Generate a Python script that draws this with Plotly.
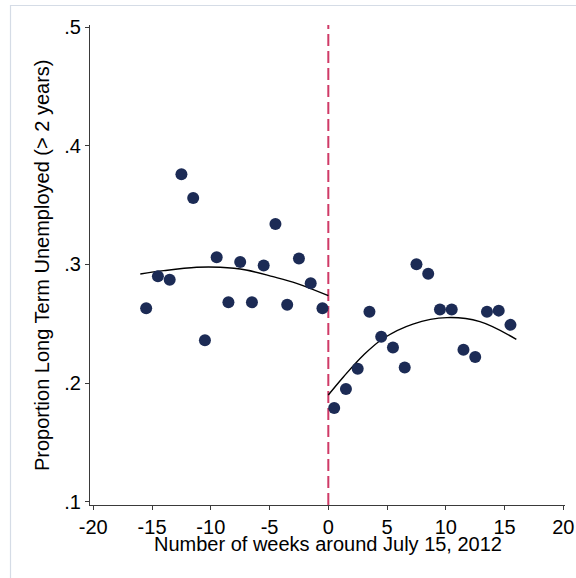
import plotly.graph_objects as go

# Data
weeks_before = [-15.5, -14.5, -13.5, -12.5, -11.5, -10.5, -9.5, -8.5,
                -7.5, -6.5, -5.5, -4.5, -3.5, -2.5, -1.5, -0.5]
prop_before = [0.263, 0.290, 0.287, 0.376, 0.356, 0.236, 0.306, 0.268,
               0.302, 0.268, 0.299, 0.334, 0.266, 0.305, 0.284, 0.263]
weeks_after = [0.5, 1.5, 2.5, 3.5, 4.5, 5.5, 6.5, 7.5,
               8.5, 9.5, 10.5, 11.5, 12.5, 13.5, 14.5, 15.5]
prop_after = [0.179, 0.195, 0.212, 0.260, 0.239, 0.230, 0.213, 0.300,
              0.292, 0.262, 0.262, 0.228, 0.222, 0.260, 0.261, 0.249]

# Quadratic fit curves
fit_before_x = [-16, -14, -11.2, -9.2, -7, -4.7, -2.7, 0]
fit_before_y = [0.2919, 0.2947, 0.2975, 0.2975, 0.2952, 0.2896, 0.2840, 0.2736]
fit_after_x = [0, 1.3, 3, 4.7, 7.2, 10.1, 12.9, 16]
fit_after_y = [0.1899, 0.2053, 0.2236, 0.2377, 0.2497, 0.2551, 0.2517, 0.2368]

x_ticks = [-20, -15, -10, -5, 0, 5, 10, 15, 20]
x_tick_labels = ["-20", "-15", "-10", "-5", "0", "5", "10", "15", "20"]
y_ticks = [0.1, 0.2, 0.3, 0.4, 0.5]
y_tick_labels = [".1", ".2", ".3", ".4", ".5"]

cutoff = 0

FONT = "Liberation Sans, Arial, sans-serif"
AXC = "#3a3a3a"
Y_LO, Y_HI = 0.0972, 0.5017

fig = go.Figure()
fig.add_trace(go.Scatter(x=fit_before_x, y=fit_before_y, mode="lines", line_shape="spline",
                         line=dict(color="black", width=1.4), hoverinfo="skip"))
fig.add_trace(go.Scatter(x=fit_after_x, y=fit_after_y, mode="lines", line_shape="spline",
                         line=dict(color="black", width=1.4), hoverinfo="skip"))
fig.add_trace(go.Scatter(x=weeks_before + weeks_after, y=prop_before + prop_after,
                         mode="markers",
                         marker=dict(size=12, color="#1C2B55", line=dict(width=0))))

fig.add_shape(type="line", x0=cutoff, x1=cutoff, y0=Y_LO, y1=Y_HI,
              xref="x", yref="y", line=dict(color="#CF3A67", width=2, dash="12px,5px"),
              layer="below")

W, H = 576, 578
L, R, T, B = 90, 11, 25, 73
pw, ph = W - L - R, H - T - B

def px_to_paper_x(px):
    return (px - L) / pw

def px_to_paper_y(py):
    return (H - B - py) / ph

# outer light border (top and left)
fig.add_shape(type="line", xref="paper", yref="paper",
              x0=px_to_paper_x(10), x1=px_to_paper_x(580),
              y0=px_to_paper_y(5.5), y1=px_to_paper_y(5.5),
              line=dict(color="#D5DCE6", width=1.2))
fig.add_shape(type="line", xref="paper", yref="paper",
              x0=px_to_paper_x(10.5), x1=px_to_paper_x(10.5),
              y0=px_to_paper_y(5), y1=px_to_paper_y(590),
              line=dict(color="#D5DCE6", width=1.2))

fig.add_annotation(text="Proportion Long Term Unemployed (> 2 years)",
                   xref="paper", yref="paper", x=px_to_paper_x(42), y=px_to_paper_y(265),
                   xanchor="center", yanchor="middle", textangle=-90, showarrow=False,
                   font=dict(family=FONT, size=20, color="black"))
fig.add_annotation(text="Number of weeks around July 15, 2012",
                   xref="paper", yref="paper", x=px_to_paper_x(328), y=px_to_paper_y(544),
                   xanchor="center", yanchor="middle", showarrow=False,
                   font=dict(family=FONT, size=20, color="black"))

fig.update_layout(
    width=W, height=H,
    margin=dict(l=L, r=R, t=T, b=B, autoexpand=False),
    paper_bgcolor="white", plot_bgcolor="white",
    showlegend=False,
    xaxis=dict(range=[-20.28, 20.14], tickvals=x_ticks, ticktext=x_tick_labels,
               showgrid=False, zeroline=False, automargin=False,
               showline=True, linecolor=AXC, linewidth=1, ticks="outside", ticklen=4,
               tickcolor=AXC, tickfont=dict(family=FONT, size=20, color="black")),
    yaxis=dict(range=[Y_LO, Y_HI], tickvals=y_ticks, ticktext=y_tick_labels,
               showgrid=False, zeroline=False, showline=True, linecolor=AXC, linewidth=1,
               automargin=False, ticks="outside", ticklen=4, tickcolor=AXC,
               tickfont=dict(family=FONT, size=20, color="black")),
)

fig.write_html("out.html", config={"displayModeBar": False},
               post_script="document.body.style.margin='0';document.body.style.overflow='hidden';")
